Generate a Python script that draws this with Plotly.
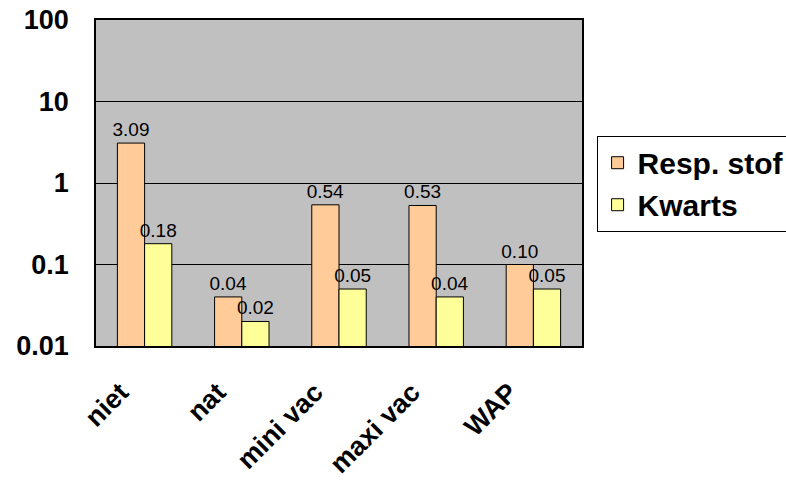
import plotly.graph_objects as go

categories = ["niet", "nat", "mini vac", "maxi vac", "WAP"]
resp_stof = [3.09, 0.04, 0.54, 0.53, 0.10]
kwarts = [0.18, 0.02, 0.05, 0.04, 0.05]
series_names = ["Resp. stof", "Kwarts"]
y_ticks = [0.01, 0.1, 1, 10, 100]
y_tick_labels = ["0.01", "0.1", "1", "10", "100"]

FONT = "Arial, Liberation Sans, sans-serif"

fig = go.Figure()
fig.add_trace(go.Bar(
    x=categories, y=resp_stof, name=series_names[0],
    marker=dict(color="#FFCC99", line=dict(color="black", width=1)),
    text=[f"{v:.2f}" for v in resp_stof], textposition="outside",
    constraintext="none",
    textfont=dict(family=FONT, size=19, color="black"), cliponaxis=False,
))
fig.add_trace(go.Bar(
    x=categories, y=kwarts, name=series_names[1],
    marker=dict(color="#FFFF99", line=dict(color="black", width=1)),
    text=[f"{v:.2f}" for v in kwarts], textposition="outside",
    constraintext="none",
    textfont=dict(family=FONT, size=19, color="black"), cliponaxis=False,
))

fig.update_layout(
    width=786, height=485,
    margin=dict(l=96, r=204, t=20, b=139, autoexpand=False),
    paper_bgcolor="white", plot_bgcolor="#C0C0C0",
    barmode="group", bargap=0.44, bargroupgap=0,
    font=dict(family=FONT, color="black"),
    legend=dict(
        x=1.03, y=0.645, xanchor="left", yanchor="top",
        bordercolor="black", borderwidth=1, bgcolor="white",
        font=dict(family=FONT, size=30, color="black", weight="bold"),
        tracegroupgap=0,
    ),
    showlegend=True,
)
fig.update_xaxes(
    tickangle=-45, tickfont=dict(family=FONT, size=27, color="black", weight="bold"),
    showline=True, linecolor="black", linewidth=1.5, mirror=True,
    ticks="", showgrid=False, automargin=False,
    ticklabelstandoff=18, ticklabelshift=-24,
)
fig.update_yaxes(
    type="log", range=[-2, 2], tickvals=y_ticks, ticktext=y_tick_labels,
    tickfont=dict(family=FONT, size=27, color="black", weight="bold"),
    showgrid=True, gridcolor="black", gridwidth=1,
    showline=True, linecolor="black", linewidth=1.5, mirror=True,
    ticks="outside", ticklen=20, tickcolor="rgba(0,0,0,0)",
    zeroline=False, automargin=False,
)

fig.write_html("out.html")
